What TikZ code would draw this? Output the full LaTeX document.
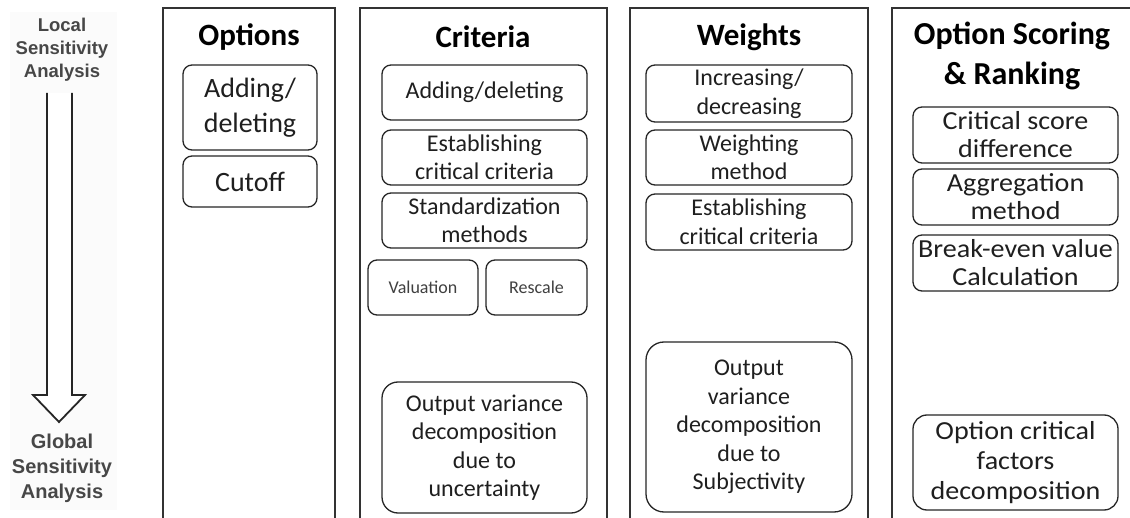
\documentclass[tikz,border=0pt]{standalone}
\usepackage{fontspec}
\setmainfont{Carlito}
\newfontfamily\lsans{Liberation Sans}
\newfontfamily\widecal[FakeStretch=1.08]{Carlito}
\begin{document}
\begin{tikzpicture}[x=1pt,y=-1pt,
  col/.style={line width=1.6pt, draw=black!80},
  rbox/.style={draw=black!85, line width=1.3pt, rounded corners=9pt, inner sep=0pt, align=center,
    font=\fontsize{24}{28.5}\selectfont, text=black!88},
  bigbox/.style={rbox, font=\fontsize{28}{35}\selectfont},
  smallbox/.style={rbox, font=\fontsize{18}{21}\selectfont, text=black!75},
  scorebox/.style={rbox, font=\widecal\fontsize{26}{28}\selectfont},
  ttl/.style={font=\fontsize{31}{38}\selectfont\bfseries, align=center, inner sep=0pt},
  side/.style={font=\lsans\bfseries\fontsize{19}{23}\selectfont, text=black!72, align=center, inner sep=0pt},
  hollow/.style={line width=1.8pt, draw=black!85, fill=white, line join=miter}]
\useasboundingbox (0,0) rectangle (1130,518);
\fill[white] (0,0) rectangle (1130,518);
% left panel
\fill[black!1.5] (10,12) rectangle (117,510);
\node[side, font=\lsans\bfseries\fontsize{18.5}{23}\selectfont] (local) at (62,50) {Local\\Sensitivity\\Analysis};
\node[side, font=\lsans\bfseries\fontsize{20}{25}\selectfont] (global) at (62,468) {Global\\Sensitivity\\Analysis};
\draw[hollow] (47,93) -- (47,395) -- (33,395) -- (59,422) -- (85,395) -- (72,395) -- (72,93);
% columns
\draw[col] (163,518) -- (163,8) -- (335,8) -- (335,518);
\draw[col] (360,518) -- (360,8) -- (607,8) -- (607,518);
\draw[col] (630,518) -- (630,8) -- (868,8) -- (868,518);
\draw[col] (892,518) -- (892,8) -- (1130,8);
% titles
\node[ttl] (t1) at (249,37) {Options};
\node[ttl] (t2) at (483,37) {Criteria};
\node[ttl] (t3) at (749,37) {Weights};
\node[ttl, font=\fontsize{32}{40}\selectfont\bfseries] (t4) at (1012,56) {Option Scoring\\\& Ranking};
% options
\node[bigbox, minimum width=134pt, minimum height=85pt] (o1) at (250,107.5) {Adding/\\deleting};
\node[bigbox, minimum width=134pt, minimum height=51pt] (o2) at (250,181.5) {Cutoff};
% criteria
\node[rbox, minimum width=205pt, minimum height=55pt] (c1) at (484.5,92.5) {Adding/deleting};
\node[rbox, minimum width=205pt, minimum height=55pt] (c2) at (484.5,157.5) {Establishing\\critical criteria};
\node[rbox, minimum width=205pt, minimum height=55pt] (c3) at (484.5,220.5) {Standardization\\methods};
\node[smallbox, minimum width=110pt, minimum height=55pt] (c4) at (423,287.5) {Valuation};
\node[smallbox, minimum width=101pt, minimum height=55pt] (c5) at (536.5,287.5) {Rescale};
\node[rbox, rounded corners=16pt, minimum width=205pt, minimum height=131pt] (c6) at (484.5,447.5) {Output variance\\decomposition\\due to\\uncertainty};
% weights
\node[rbox, minimum width=206pt, minimum height=57pt] (w1) at (749,93.5) {Increasing/\\decreasing};
\node[rbox, minimum width=206pt, minimum height=55pt] (w2) at (749,157.5) {Weighting\\method};
\node[rbox, minimum width=206pt, minimum height=56pt] (w3) at (749,222) {Establishing\\critical criteria};
\node[rbox, rounded corners=18pt, minimum width=206pt, minimum height=170pt] (w4) at (749,427) {Output\\variance\\decomposition\\due to\\Subjectivity};
% scoring
\node[scorebox, minimum width=205pt, minimum height=56pt] (s1) at (1015.5,135) {Critical score\\difference};
\node[scorebox, minimum width=205pt, minimum height=56pt] (s2) at (1015.5,197) {Aggregation\\method};
\node[scorebox, minimum width=205pt, minimum height=56pt] (s3) at (1015.5,263) {Break-even value\\Calculation};
\node[scorebox, font=\widecal\fontsize{26}{30}\selectfont, rounded corners=14pt, minimum width=205pt, minimum height=95pt] (s4) at (1015.5,462.5) {Option critical\\factors\\decomposition};
\end{tikzpicture}
\end{document}
